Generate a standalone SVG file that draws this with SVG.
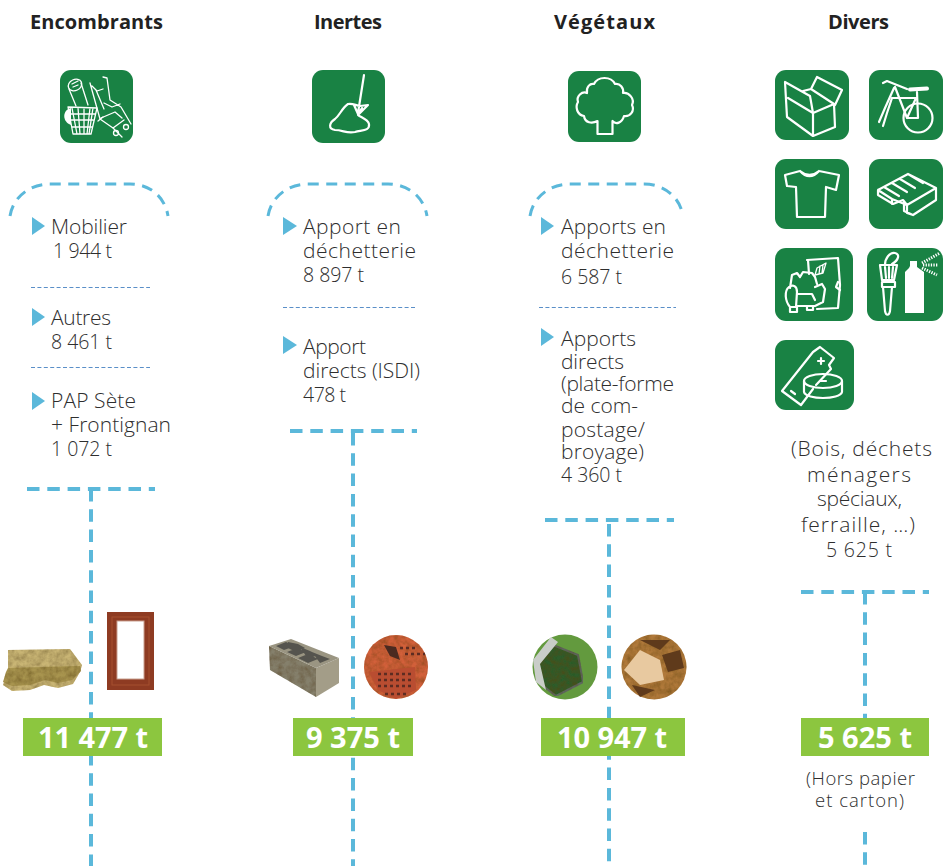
<svg xmlns="http://www.w3.org/2000/svg" width="943" height="866" viewBox="0 0 943 866">
<style>
text{font-family:"Open Sans","Liberation Sans",sans-serif}
.h{font-size:20px;font-weight:700;fill:#222;text-anchor:middle}
.t{font-size:21px;font-weight:300;fill:#2e2e2e}
.m{font-size:19.500px;font-weight:300;fill:#2e2e2e}
.c{font-size:21px;font-weight:300;fill:#2e2e2e;text-anchor:middle}
.s{font-size:18.500px;font-weight:300;fill:#2e2e2e;text-anchor:middle}
.v{font-size:29px;font-weight:700;fill:#fff;text-anchor:middle}
.g{fill:#198244}
.l{fill:#8cc63f}
.i{fill:none;stroke:#fff;stroke-width:2.200;stroke-linejoin:round;stroke-linecap:round}
.f{stroke-width:1.300}
.a{fill:#5bb8da}
.d{fill:none;stroke:#5bb8da;stroke-width:4;stroke-dasharray:12.500 7.800}
.e{fill:none;stroke:#5bb8da;stroke-width:3;stroke-dasharray:11 7.500}
.n{fill:none;stroke:#5a8fc8;stroke-width:1.200;stroke-dasharray:4 2.400}
</style>
<defs>
<filter id="tex" x="0" y="0" width="100%" height="100%"><feTurbulence type="fractalNoise" baseFrequency="0.18" numOctaves="3" seed="4"/><feColorMatrix values="0 0 0 0 0.1 0 0 0 0 0.05 0 0 0 0 0 0.9 0 0 0 -0.25"/><feComposite in2="SourceAlpha" operator="in" result="n"/><feMerge><feMergeNode in="SourceGraphic"/><feMergeNode in="n"/></feMerge></filter>
</defs>
<rect width="943" height="866" fill="#fff"/>
<g id="connectors">
<path class="e" d="M10 216C13 197 30 184 50 184H130C150 184 165 197 168 216"/>
<path class="e" d="M268 216C271 197 288 184 308 184H388C408 184 424 197 427 216"/>
<path class="e" d="M530 216C533 197 550 184 570 184H644C664 184 680 197 683 216"/>
<path class="n" d="M31 287.500H150M31 367.500H150M283 307.500H415M539 307.500H676"/>
<path class="d" d="M27 489H155M91 489V866"/>
<path class="d" d="M290 431H417M353 433V866"/>
<path class="d" d="M545 520H674M609 524V866"/>
<path class="d" d="M801 592H929M865 592V718M865 832V866"/>
</g>
<g id="encombrants">
<text class="h" x="96.500" y="29" textLength="133">Encombrants</text>
<g id="icon-encombrants"><rect class="g" x="60" y="70" width="73" height="73" rx="11"/>
<g class="i f"><ellipse cx="75" cy="85" rx="7" ry="5.500" transform="rotate(-25 75 85)"/><path d="M69 89L76 106M81 83L88 105M72 84L78 81M73 87L78 85"/><path d="M68 107L97 108L91 134H73ZM72 108L77 134M78 108L80 134M84 108L84 134M90 108L87 134M93 108L89 134M70 114H95M71 120H93M72 127H92"/><path d="M98 121L103 117"/><path d="M90 83L100 119L113 128L122 137M103 77L107 78L110 100L121 107L131 124M92 86L97 91L103 89M96 90L104 109M104 103L112 107L120 104M101 118L115 112L122 118M113 128L124 120"/><circle cx="116" cy="133" r="2.500"/><circle cx="126" cy="127" r="2.500"/></g>
<path d="M71 108C62 110 62 122 71 125Z" fill="#fff"/></g>
<path class="a" d="M32 217L45 226L32 235Z"/>
<text class="t" x="51" y="234" textLength="76">Mobilier</text>
<text class="m" x="53" y="258" textLength="59">1 944 t</text>
<path class="a" d="M32 308L45 317L32 326Z"/>
<text class="t" x="51" y="325" textLength="60">Autres</text>
<text class="m" x="51" y="349" textLength="61">8 461 t</text>
<path class="a" d="M32 392L45 401L32 410Z"/>
<text class="t" x="51" y="408" textLength="85">PAP Sète</text>
<text class="t" x="51" y="432" textLength="120">+ Frontignan</text>
<text class="m" x="51" y="456" textLength="61">1 072 t</text>
<g id="photo-laine"><path d="M8 650L70 649L82 665L80 672L73 684L58 688L44 685L30 690L12 691L3 685L8 670Z" fill="#c9b574" filter="url(#tex)"/><path d="M8 668L80 666L81 671L72 680L58 683L45 680L30 685L12 686L3 682L6 672Z" fill="#a8944f" filter="url(#tex)"/></g>
<g id="photo-fenetre"><rect x="107" y="612" width="47" height="78" fill="#8e3b22"/><rect x="112" y="617" width="37" height="68" fill="none" stroke="#a5502f"/><rect x="117" y="621" width="27" height="58" fill="#fff" stroke="#c9a08f"/></g>
<rect class="l" x="23" y="718" width="139" height="38"/>
<text class="v" x="93" y="748" textLength="110">11 477 t</text>
</g>
<g id="inertes">
<text class="h" x="348" y="29" textLength="68">Inertes</text>
<g id="icon-inertes"><rect class="g" x="312" y="70" width="73" height="73" rx="11"/>
<path class="i" stroke-width="2.500" d="M364 75L358 113M354 105L358 114L362 108M348 104C342 108 340 115 335 119C329 123 328 129 335 130C343 130 347 134 355 132C362 130 370 131 369 124C368 119 360 117 358 115L368 105L360 106C355 105 352 103 348 104Z"/></g>
<path class="a" d="M283 217L297 226L283 235Z"/>
<text class="t" x="303" y="234" textLength="98">Apport en</text>
<text class="t" x="303" y="258" textLength="113">déchetterie</text>
<text class="m" x="303" y="282" textLength="61">8 897 t</text>
<path class="a" d="M283 336L297 345L283 354Z"/>
<text class="t" x="303" y="354" textLength="63">Apport</text>
<text class="t" x="303" y="378" textLength="117">directs (ISDI)</text>
<text class="m" x="303" y="402" textLength="43">478 t</text>
<g id="photo-parpaing"><path d="M269 646L316 668V697L270 670Z" fill="#85806c" filter="url(#tex)"/><path d="M316 668L339 658V683L316 697Z" fill="#a39d88"/><path d="M269 646L291 639L339 658L316 668Z" fill="#9a9582"/><path d="M276 646L286 642L295 646L284 650ZM288 642L298 644L305 648L296 652L288 648ZM287 652L297 648L306 652L296 656ZM300 647L310 651L318 655L308 659ZM298 658L308 654L318 659L308 663ZM312 652L322 656L330 659L320 663Z" fill="#55544e"/></g>
<g id="photo-brique"><circle cx="396" cy="667" r="32" fill="#d2603a" filter="url(#tex)"/><path d="M369 672L415 667L416 690L396 699L378 690Z" fill="#b94d31"/><path d="M384 645L396 647L400 660L390 656Z" fill="#4a2a20"/><path d="M378 674h36M378 680h36M378 686h36M385 694h22M400 648h18M405 654h20" stroke="#5d2c22" stroke-width="2.500" stroke-dasharray="3 3"/></g>
<rect class="l" x="293" y="718" width="120" height="38"/>
<text class="v" x="353" y="748" textLength="94">9 375 t</text>
</g>
<g id="vegetaux">
<text class="h" x="604.500" y="29" textLength="101">Végétaux</text>
<g id="icon-vegetaux"><rect class="g" x="568" y="71" width="73" height="71" rx="11"/>
<path class="i" stroke-width="2.300" d="M597.500 134V121C592 124 585 123 584 116C577 115 575 107 578 102C576 96 582 91 587 93C586 87 590 83 594 84C598 76 611 76 615 84C620 83 624 88 623 93C629 92 635 99 632 105C635 111 630 117 624 116C622 123 616 125 612.500 121V134Z"/></g>
<path class="a" d="M541 217L554 226L541 235Z"/>
<text class="t" x="561" y="234" textLength="105">Apports en</text>
<text class="t" x="561" y="258" textLength="113">déchetterie</text>
<text class="m" x="561" y="284" textLength="61">6 587 t</text>
<path class="a" d="M541 328L554 337L541 346Z"/>
<text class="t" x="561" y="346" textLength="75">Apports</text>
<text class="t" x="561" y="369" textLength="63">directs</text>
<text class="t" x="561" y="391" textLength="113">(plate-forme</text>
<text class="t" x="561" y="413" textLength="77">de com-</text>
<text class="t" x="561" y="437" textLength="84">postage/</text>
<text class="t" x="561" y="459" textLength="83">broyage)</text>
<text class="m" x="561" y="482" textLength="61">4 360 t</text>
<g id="photo-compost"><circle cx="565" cy="667" r="32.500" fill="#639a3e"/><path d="M536 660L553 645L578 655L583 682L556 696L542 685Z" fill="#2e5c2a" stroke="#5e6b63" stroke-width="2" filter="url(#tex)"/><path d="M533 660L551 637L558 642L540 664L546 690L536 682Z" fill="#c9cdc8"/></g>
<g id="photo-feuilles"><circle cx="654" cy="667" r="32.500" fill="#b0793a" filter="url(#tex)"/><path d="M624 670L640 650L660 660L664 680L640 685Z" fill="#e8c9a0"/><path d="M640 640L660 650L670 640ZM662 655L680 650L684 668L668 672ZM632 685L655 690L640 697Z" fill="#5f3a1b"/></g>
<rect class="l" x="541" y="718" width="144" height="38"/>
<text class="v" x="612" y="748" textLength="110">10 947 t</text>
</g>
<g id="divers">
<text class="h" x="858.500" y="29" textLength="61">Divers</text>
<g id="icon-carton"><rect class="g" x="775" y="70" width="74" height="70" rx="11"/>
<path class="i" d="M785 82L787 117L813 136L835 127L834 104L813 113L788 98M785 82L810 96L813 113V136M803 91L811 89L817 77L842 90L835 105M811 89L834 104"/></g>
<g id="icon-velo"><rect class="g" x="869" y="70" width="74" height="70" rx="11"/>
<g class="i"><circle cx="918" cy="118" r="14.500"/><path d="M883 83L887 81L907 89M895 87L907 118H918L917 92M892 98H916L907 118M894 88L885 108L879 122M892 98L887 113L883 126"/><path d="M910 89.500L927 88.500" stroke-width="4"/></g></g>
<g id="icon-tshirt"><rect class="g" x="775" y="159" width="74" height="70" rx="11"/>
<path class="i" d="M785 175L800 171C806 176 813 176 819 171L839 175L836 190L826 187L825 217H797L796 187L787 186ZM800 171C806 178 813 178 819 171"/></g>
<g id="icon-palette"><rect class="g" x="869" y="159" width="74" height="70" rx="11"/>
<path class="i" d="M878 190L908 174L936 188L907 205L903 200L893 204L878 195ZM878 190L892 199V204M884 187L899 196M892 183L907 192M900 179L915 188M908 174L923 183M892 199L907 205V213L913 215L936 200V188M904 204V211L913 215"/></g>
<g id="icon-fauteuil"><rect class="g" x="775" y="248" width="78" height="73" rx="11"/>
<path class="i" d="M807 260L838 258L840 285L838 308L817 309"/><path class="i" d="M808 260L809 274M838 282L836 287L840 290"/>
<path class="i" d="M790 288L792 275L797 273L800 277L803 272L812 273L815 277L817 284M789 287C784 291 785 301 790 307L796 307L797 292C797 286 793 284 789 287ZM815 287L822 284L825 289L823 302L815 306H796M797 294H812L815 300M790 307V312H797V307M807 307V310H813V307"/>
<path class="i f" d="M817 268L826 263L823 273L815 275ZM820 266L819 274M823 265L822 273"/></g>
<g id="icon-peinture"><rect class="g" x="867" y="248" width="76" height="73" rx="11"/>
<path class="i" d="M885 265C885 258 890 252 895 253C900 254 899 260 892 264M880 265H897L894 280H882ZM885 267L886 278M889 267V278M893 267L892 278M882 282H895V287H882ZM883 287L885 311C886 316 889 316 890 311L892 287"/>
<path fill="#fff" d="M905 313V272L909 268L910 266V261H917V267L924 272V313Z"/>
<path stroke="#fff" stroke-width="3" stroke-dasharray="1.300 1.300" fill="none" d="M922 263L940 253M923 265H938M922 268L937 275"/></g>
<g id="icon-pile"><rect class="g" x="775" y="340" width="79" height="70" rx="11"/>
<path class="i" d="M782 391L813 352L820 347L834 358L829 365L831 369L816 385M782 391L801 405L813 389"/>
<ellipse class="i" cx="823" cy="381" rx="19" ry="7"/><path class="i" d="M804 381V392C806 400 840 400 842 392V381M818 361L824 361M821 358V364M820 381H826M791 391L795 394"/></g>
<text class="c" x="861.500" y="456" textLength="141">(Bois, déchets</text>
<text class="c" x="859" y="482" textLength="104">ménagers</text>
<text class="c" x="859.500" y="506" textLength="85">spéciaux,</text>
<text class="c" x="858" y="532" textLength="114">ferraille, …)</text>
<text class="c" x="859" y="557" textLength="66" style="font-size:19.500px">5 625 t</text>
<rect class="l" x="801" y="718" width="128" height="38"/>
<text class="v" x="865" y="748" textLength="94">5 625 t</text>
<text class="s" x="860.500" y="785" textLength="109">(Hors papier</text>
<text class="s" x="859.500" y="807" textLength="89">et carton)</text>
</g>
</svg>
